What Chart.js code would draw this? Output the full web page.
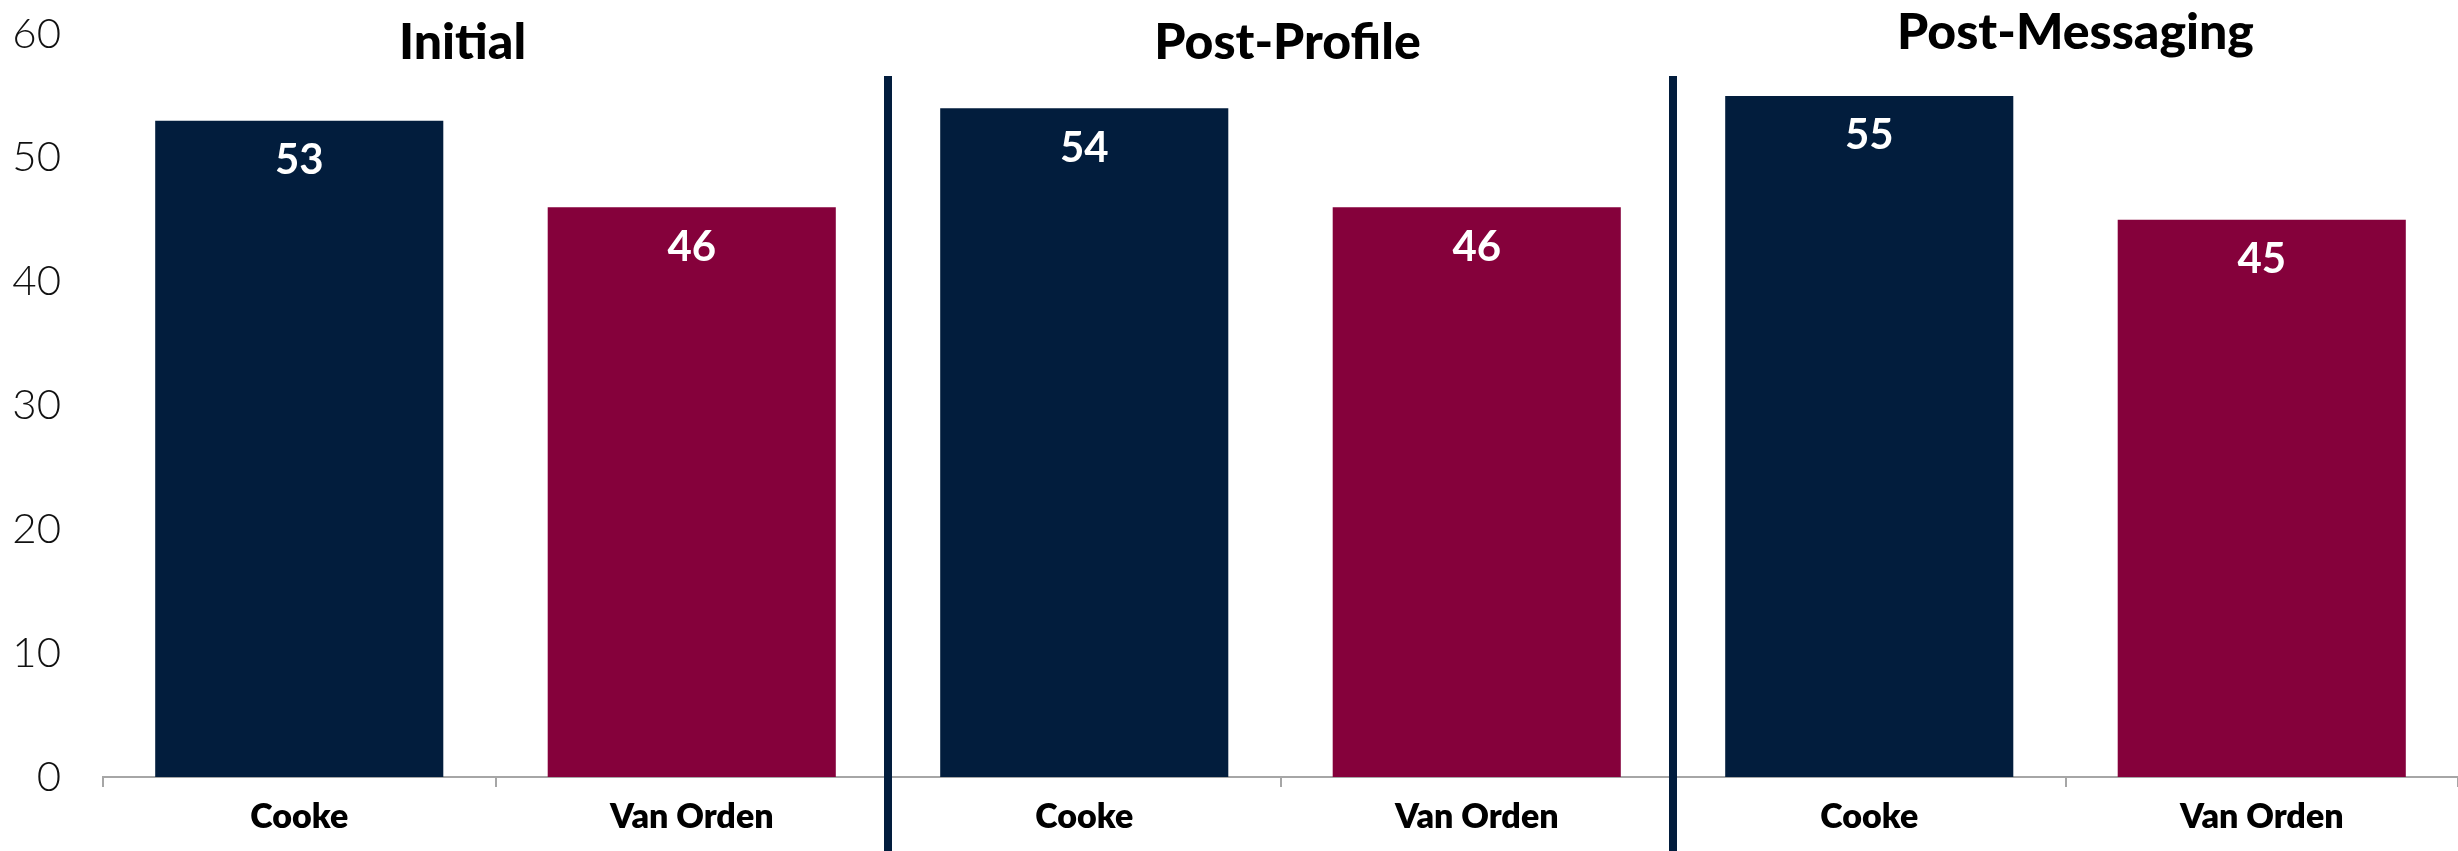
<!DOCTYPE html>
<html>
<head>
<meta charset="utf-8">
<script src="https://cdn.jsdelivr.net/npm/chart.js@4.4.1/dist/chart.umd.min.js"></script>
<style>
  html, body { margin: 0; padding: 0; background: #ffffff; }
  #wrap { width: 2458px; height: 851px; position: relative; }
</style>
</head>
<body>
<div id="wrap"><canvas id="c" width="2458" height="851"></canvas></div>
<script>
// ---- Data ----
const groups = ["Initial", "Post-Profile", "Post-Messaging"];
const candidates = ["Cooke", "Van Orden"];
const cookeValues = [53, 54, 55];
const vanOrdenValues = [46, 46, 45];
const yTicks = [0, 10, 20, 30, 40, 50, 60];

// ---- Styles ----
const NAVY = "#021D3D";
const MAROON = "#85013B";
const AXIS_GRAY = "#A6A6A6";

// Build the flat category list / values from the arrays above
const labels = [];
const values = [];
const colors = [];
groups.forEach((g, i) => {
  labels.push(candidates[0]); values.push(cookeValues[i]); colors.push(NAVY);
  labels.push(candidates[1]); values.push(vanOrdenValues[i]); colors.push(MAROON);
});

const valueLabelPlugin = {
  id: "valueLabels",
  afterDatasetsDraw(chart) {
    const ctx = chart.ctx;
    const meta = chart.getDatasetMeta(0);
    ctx.save();
    ctx.fillStyle = "#ffffff";
    ctx.font = "700 42px Lato, 'Open Sans', sans-serif";
    ctx.textAlign = "center";
    ctx.textBaseline = "middle";
    meta.data.forEach((bar, i) => {
      ctx.fillText(String(values[i]), bar.x, bar.y + 40);
    });
    ctx.restore();
  }
};

const groupDecorPlugin = {
  id: "groupDecor",
  afterDraw(chart, args, opts) {
    const ctx = chart.ctx;
    const xs = chart.scales.x;
    ctx.save();
    // dividers
    ctx.fillStyle = NAVY;
    for (let g = 0; g < groups.length - 1; g++) {
      const x = (xs.getPixelForValue(2 * g + 1) + xs.getPixelForValue(2 * g + 2)) / 2;
      ctx.fillRect(Math.round(x - 4), opts.dividerTop, 8, chart.height - opts.dividerTop);
    }
    // titles
    ctx.fillStyle = "#000000";
    ctx.font = "900 50px Lato, 'Open Sans', sans-serif";
    ctx.textAlign = "center";
    ctx.textBaseline = "middle";
    groups.forEach((g, i) => {
      const cx = (xs.getPixelForValue(2 * i) + xs.getPixelForValue(2 * i + 1)) / 2;
      ctx.fillText(g, cx + opts.titleDx[i], opts.titleY[i]);
    });
    ctx.restore();
  }
};

new Chart(document.getElementById("c"), {
  type: "bar",
  data: {
    labels: labels,
    datasets: [{
      data: values,
      backgroundColor: colors,
      borderWidth: 0,
      barPercentage: 0.734,
      categoryPercentage: 1.0
    }]
  },
  options: {
    responsive: false,
    animation: false,
    devicePixelRatio: 1,
    layout: { padding: { top: 34, right: 0, left: 0, bottom: 0 } },
    plugins: {
      legend: { display: false },
      tooltip: { enabled: false },
      title: { display: false },
      groupDecor: {
        dividerTop: 76,
        titleDx: [-33, 7, 10],
        titleY: [43, 43, 33]
      }
    },
    scales: {
      x: {
        offset: true,
        grid: {
          display: true,
          offset: true,
          drawOnChartArea: false,
          drawTicks: true,
          tickLength: 10,
          color: AXIS_GRAY,
          lineWidth: 2
        },
        border: { display: true, color: AXIS_GRAY, width: 2 },
        ticks: {
          color: "#000000",
          font: { family: "Lato, 'Open Sans', sans-serif", size: 34, weight: "800" },
          padding: 10,
          maxRotation: 0,
          autoSkip: false
        },
        afterFit(scale) { scale.height = 74; scale.paddingLeft = 0; scale.paddingRight = 0; }
      },
      y: {
        min: 0,
        max: 60,
        afterBuildTicks(scale) { scale.ticks = yTicks.map(v => ({ value: v })); },
        grid: { display: false, drawTicks: false },
        border: { display: false },
        ticks: {
          color: "#111111",
          font: { family: "Lato, 'Open Sans', sans-serif", size: 42, weight: "300" },
          padding: 42
        },
        afterFit(scale) { scale.width = 103; scale.paddingTop = 0; scale.paddingBottom = 0; }
      }
    }
  },
  plugins: [valueLabelPlugin, groupDecorPlugin]
});
</script>
</body>
</html>
